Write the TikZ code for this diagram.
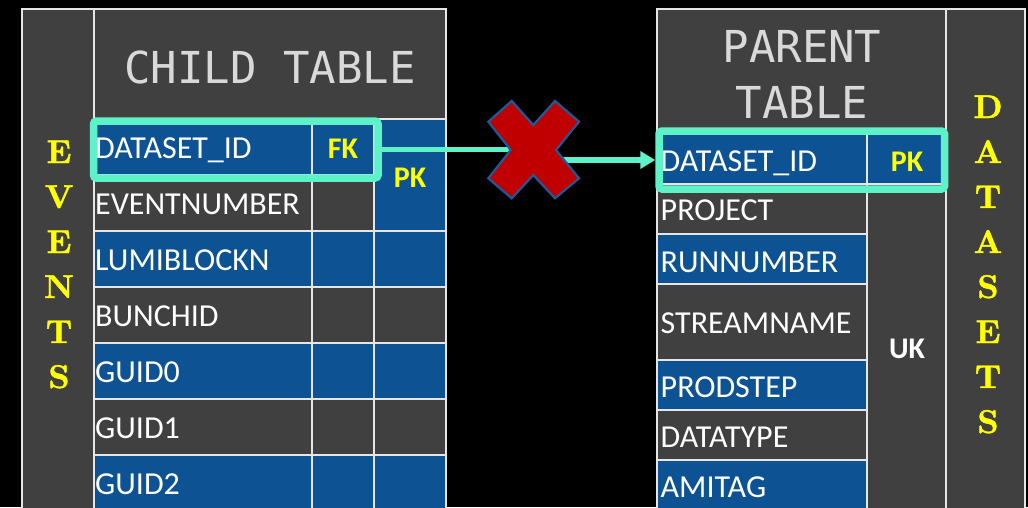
\documentclass[tikz,border=0pt]{standalone}
\usepackage{fontspec}
\usetikzlibrary{arrows.meta}
\newfontfamily\calfont{Carlito}
\newfontfamily\monofont{DejaVu Sans Mono}
\newfontfamily\sidefont{lmroman10-bold.otf}[FakeBold=1.2]
\definecolor{cblue}{HTML}{0D5394}
\definecolor{cgray}{HTML}{404040}
\definecolor{gridc}{HTML}{E6E6E6}
\definecolor{mint}{HTML}{5EF2C8}
\definecolor{ttlc}{HTML}{D9D9D9}
\definecolor{xred}{HTML}{C00000}
\definecolor{xblue}{HTML}{1F5A96}
\definecolor{yel}{HTML}{FFFF00}
\tikzset{
  cellb/.style={fill=cblue, draw=gridc, line width=2pt},
  cellg/.style={fill=cgray, draw=gridc, line width=2pt},
  rowtxt/.style={anchor=base west, inner sep=0pt, text=white, font=\calfont\fontsize{32}{32}\selectfont},
  keytxt/.style={anchor=base, inner sep=0pt, text=yel, font=\calfont\bfseries\fontsize{30}{30}\selectfont},
  ttltxt/.style={anchor=base, inner sep=0pt, text=ttlc, font=\monofont\fontsize{44}{44}\selectfont},
  sidetxt/.style={anchor=base, inner sep=0pt, text=yel, font=\sidefont\fontsize{33}{33}\selectfont},
  greenbox/.style={draw=mint, line width=7.5pt, rounded corners=3pt, inner sep=0pt},
  conn/.style={draw=mint, line width=5.5pt, -{Triangle[length=15pt,width=17pt]}},
  xmark/.style={fill=xred, draw=xblue, line width=2.2pt, line join=miter}
}
\begin{document}
\begin{tikzpicture}[x=1pt,y=-1pt]
\useasboundingbox (0,0) rectangle (1028,507);
\fill[black] (0,0) rectangle (1028,507);
\clip (0,0) rectangle (1028,507);
% ---------- child table ----------
\path[cellg] (22,9) rectangle (94,520);
\path[cellg] (94,9) rectangle (446,119);
\foreach \i/\c in {0/cellb,1/cellg,2/cellb,3/cellg,4/cellb,5/cellg,6/cellb}{
  \pgfmathsetmacro\ya{119+56*\i}
  \pgfmathsetmacro\yb{119+56*(\i+1)}
  \path[\c] (94,\ya) rectangle (312,\yb);
  \path[\c] (312,\ya) rectangle (374,\yb);
  \ifnum\i>1 \path[\c] (374,\ya) rectangle (446,\yb); \fi
}
\path[cellb] (374,119) rectangle (446,231);
\node[ttltxt] (ttlC) at (270,83) {CHILD TABLE};
\node[rowtxt] (c1) at (95,158) {DATASET\_ID};
\node[rowtxt] (c2) at (95,214) {EVENTNUMBER};
\node[rowtxt] (c3) at (95,270) {LUMIBLOCKN};
\node[rowtxt] (c4) at (95,326) {BUNCHID};
\node[rowtxt] (c5) at (95,382) {GUID0};
\node[rowtxt] (c6) at (95,438) {GUID1};
\node[rowtxt] (c7) at (95,494) {GUID2};
\node[keytxt] (fk) at (343,158) {FK};
\node[keytxt] (pkL) at (410,187) {PK};
\foreach \l [count=\k from 0] in {E,V,E,N,T,S}{
  \node[sidetxt] (ev\k) at (59,163+45*\k) {\l};
}
% ---------- parent table ----------
\path[cellg] (946,9) rectangle (1025,520);
\path[cellg] (657,9) rectangle (946,132);
\foreach \ya/\yb/\c in {132/184/cellb,184/234/cellg,234/284/cellb,284/360/cellg,360/410/cellb,410/460/cellg,460/520/cellb}{
  \path[\c] (657,\ya) rectangle (867,\yb);
}
\path[cellb] (867,132) rectangle (946,184);
\path[cellg] (867,184) rectangle (946,520);
\node[ttltxt] (ttlP1) at (802,62) {PARENT};
\node[ttltxt] (ttlP2) at (802,118) {TABLE};
\node[rowtxt] (p1) at (660.5,171) {DATASET\_ID};
\node[rowtxt] (p2) at (660.5,220) {PROJECT};
\node[rowtxt] (p3) at (660.5,272) {RUNNUMBER};
\node[rowtxt] (p4) at (660.5,333) {STREAMNAME};
\node[rowtxt] (p5) at (660.5,397) {PRODSTEP};
\node[rowtxt] (p6) at (660.5,447) {DATATYPE};
\node[rowtxt] (p7) at (660.5,497) {AMITAG};
\node[keytxt] (pkR) at (907,171) {PK};
\node[keytxt, text=white] (uk) at (907,358) {UK};
\foreach \l [count=\k from 0] in {D,A,T,A,S,E,T,S}{
  \node[sidetxt] (ds\k) at (988,118+45*\k) {\l};
}
% ---------- highlight boxes and connector ----------
\node[greenbox, minimum width=284.5pt, minimum height=57pt] (fkbox) at (235.75,149.5) {};
\node[greenbox, minimum width=285.5pt, minimum height=58pt] (pkbox) at (801.75,160) {};
\coordinate (xc) at (533.3,149.5);
\draw[conn] (fkbox.east) -- (xc) |- (pkbox.west);
\path[xmark] (511.7,101) -- (533.3,125) -- (555,101) -- (579,121.7) -- (556,150)
  -- (579,178.3) -- (555,198.3) -- (533.3,175) -- (511.7,198.3) -- (488.3,178.3)
  -- (510.7,150) -- (488.3,121.7) -- cycle;
\end{tikzpicture}
\end{document}
